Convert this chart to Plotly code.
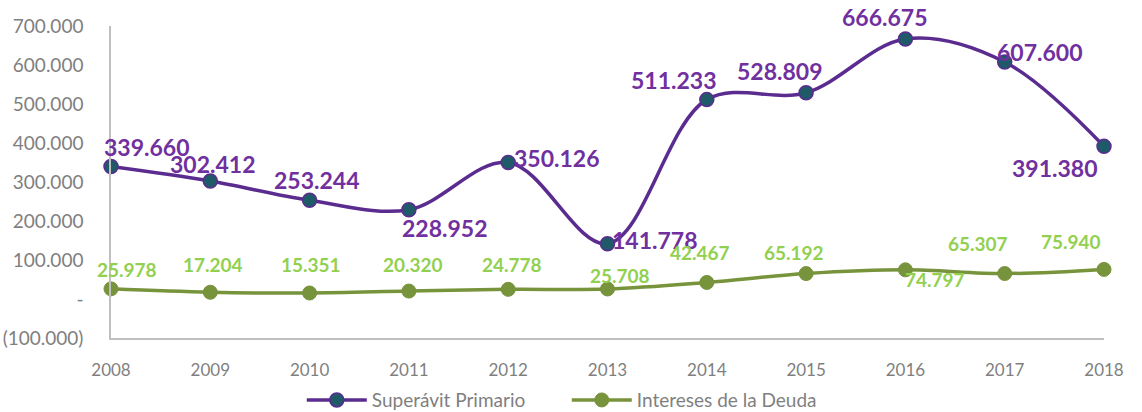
import plotly.graph_objects as go

years = [2008, 2009, 2010, 2011, 2012, 2013, 2014, 2015, 2016, 2017, 2018]
superavit = [339660, 302412, 253244, 228952, 350126, 141778, 511233, 528809, 666675, 607600, 391380]
intereses = [25978, 17204, 15351, 20320, 24778, 25708, 42467, 65192, 74797, 65307, 75940]
superavit_labels = ["339.660", "302.412", "253.244", "228.952", "350.126", "141.778",
                    "511.233", "528.809", "666.675", "607.600", "391.380"]
intereses_labels = ["25.978", "17.204", "15.351", "20.320", "24.778", "25.708",
                    "42.467", "65.192", "74.797", "65.307", "75.940"]
y_tickvals = [700000, 600000, 500000, 400000, 300000, 200000, 100000, 0, -100000]
y_ticktext = ["700.000", "600.000", "500.000", "400.000", "300.000", "200.000",
              "100.000", "-", "(100.000)"]
series_names = ["Superávit Primario", "Intereses de la Deuda"]

# label pixel offsets (style/position only)
sup_off = [(36, 20), (3, 17), (7, 20), (36, -18), (49, 4), (47, 4),
           (-33, 20), (-26, 22), (-20, 22), (35, 10), (-49, -22)]
int_off = [(16, 19), (3, 28), (1, 29), (4, 27), (4, 25), (12, 13),
           (-7, 30), (-12, 21), (30, -10), (-27, 30), (-33, 28)]

PURPLE = "#5B2C8F"
PURPLE_TXT = "#7030A0"
TEAL = "#1E5A68"
GREEN = "#77933C"
GREEN_TXT = "#92D050"
GRAY = "#7F7F7F"
FONT = "Lato"

fig = go.Figure()
fig.add_trace(go.Scatter(
    x=years, y=superavit, name=series_names[0], mode="lines+markers",
    line=dict(color=PURPLE, width=3.5, shape="spline", smoothing=1.0),
    marker=dict(size=14, color=TEAL, line=dict(color=PURPLE, width=1.5)),
))
fig.add_trace(go.Scatter(
    x=years, y=intereses, name=series_names[1], mode="lines+markers",
    line=dict(color=GREEN, width=3.5, shape="spline", smoothing=1.0),
    marker=dict(size=14, color=GREEN, line=dict(color=GREEN, width=1)),
))

annotations = []
for xv, yv, t, (dx, dy) in zip(years, superavit, superavit_labels, sup_off):
    annotations.append(dict(x=xv, y=yv, xref="x", yref="y", text=t, showarrow=False,
                            xshift=dx, yshift=dy, xanchor="center", yanchor="middle",
                            font=dict(family=FONT, size=23, color=PURPLE_TXT, weight="bold")))
for xv, yv, t, (dx, dy) in zip(years, intereses, intereses_labels, int_off):
    annotations.append(dict(x=xv, y=yv, xref="x", yref="y", text=t, showarrow=False,
                            xshift=dx, yshift=dy, xanchor="center", yanchor="middle",
                            font=dict(family=FONT, size=19, color=GREEN_TXT, weight="bold")))

fig.update_layout(
    width=1142, height=412,
    margin=dict(l=111, r=38, t=26, b=74, autoexpand=False),
    paper_bgcolor="white", plot_bgcolor="white",
    font=dict(family=FONT, color=GRAY, size=17),
    showlegend=True,
    legend=dict(orientation="h", x=0.459, xanchor="center", xref="paper",
                y=-0.199, yanchor="middle", font=dict(size=19, color=GRAY),
                itemwidth=60, tracegroupgap=0, entrywidth=190, entrywidthmode="pixels"),
    annotations=annotations,
)
fig.update_xaxes(
    range=[2008, 2018], tickvals=years, ticktext=[str(y) for y in years],
    showgrid=False, zeroline=False, showline=True, linecolor="#BFBFBF", linewidth=1.5,
    ticks="", ticklabelstandoff=16, tickfont=dict(size=17, color=GRAY), automargin=False,
)
fig.update_yaxes(
    range=[-100000, 700000], tickvals=y_tickvals, ticktext=y_ticktext,
    showgrid=False, zeroline=False, showline=True, linecolor="#BFBFBF", linewidth=1.5,
    ticks="", ticklabelstandoff=22, tickfont=dict(size=19, color=GRAY), automargin=False,
)
fig.update_traces(cliponaxis=False)

fig.write_html("out.html", config={"displayModeBar": False},
               post_script="document.body.style.margin='0';document.body.style.overflow='hidden';")
